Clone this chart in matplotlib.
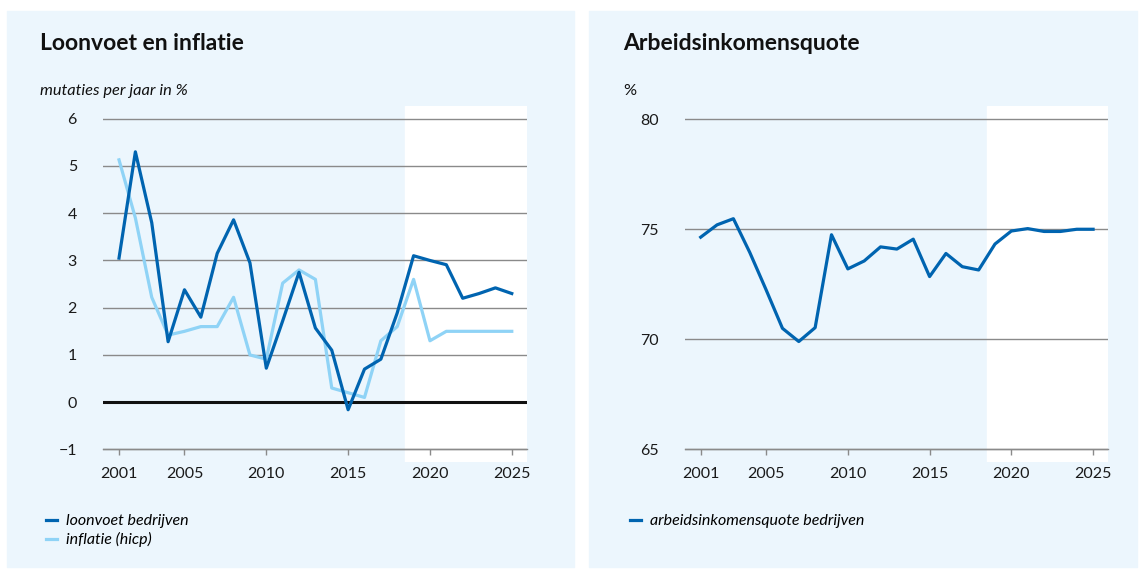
import numpy as np
import matplotlib.pyplot as plt
from matplotlib.patches import Rectangle

plt.rcParams['font.family'] = ['Lato', 'DejaVu Sans']

years = np.arange(2001, 2026)
loonvoet = [3.05, 5.3, 3.8, 1.28, 2.38, 1.8, 3.15, 3.86, 2.95, 0.72, 1.72, 2.75, 1.57,
            1.1, -0.16, 0.7, 0.91, 1.89, 3.1, 3.0, 2.91, 2.2, 2.3, 2.42, 2.3]
inflatie = [5.13, 3.9, 2.22, 1.42, 1.5, 1.6, 1.6, 2.22, 1.0, 0.91, 2.52, 2.8, 2.6,
            0.3, 0.2, 0.1, 1.3, 1.6, 2.6, 1.3, 1.5, 1.5, 1.5, 1.5, 1.5]
aiq = [74.64, 75.2, 75.48, 73.95, 72.25, 70.5, 69.9, 70.53, 74.75, 73.2, 73.56, 74.2,
       74.1, 74.55, 72.85, 73.9, 73.3, 73.15, 74.33, 74.92, 75.03, 74.9, 74.9, 75.0, 75.0]
xticks = [2001, 2005, 2010, 2015, 2020, 2025]
forecast_start = 2018.5

W, H = 1141, 569
dark = '#0064B0'
light = '#8FD3F6'
panel = '#ECF6FD'
grid = '#8A8A8A'

fig = plt.figure(figsize=(W / 100, H / 100), dpi=100)
fig.patch.set_facecolor('white')

def fx(px):
    return px / W

def fy(py):
    return 1 - py / H

# panel backgrounds
fig.add_artist(Rectangle((fx(7), fy(567)), fx(567), (567 - 11) / H,
                         transform=fig.transFigure, color=panel, zorder=0))
fig.add_artist(Rectangle((fx(589), fy(567)), fx(548), (567 - 11) / H,
                         transform=fig.transFigure, color=panel, zorder=0))

def style_axes(ax, ylo, yhi, ygrid):
    ax.set_facecolor('none')
    ax.set_xlim(2000.04, 2025.93)
    ax.set_ylim(ylo, yhi)
    ax.axvspan(forecast_start, 2026, color='white', zorder=0)
    for g in ygrid:
        ax.axhline(g, color=grid, lw=1.0, zorder=1)
    for s in ax.spines.values():
        s.set_visible(False)
    ax.set_xticks(xticks)
    ax.set_yticks(ygrid)
    ax.tick_params(axis='x', direction='out', length=4, width=1, color=grid,
                   pad=9, labelsize=11.5, labelcolor='#1a1a1a')
    ax.tick_params(axis='y', length=0, pad=19, labelsize=11.5, labelcolor='#1a1a1a')
    # x ticks sit on the lowest gridline
    ax.spines['bottom'].set_position(('data', ygrid[0]))
    ax.spines['bottom'].set_visible(True)
    ax.spines['bottom'].set_color(grid)
    ax.spines['bottom'].set_linewidth(1.0)

# left chart
ax1 = fig.add_axes([fx(103.3), fy(461.7), fx(527 - 103.3), (461.7 - 106) / H])
style_axes(ax1, -1.26, 6.27, [-1, 0, 1, 2, 3, 4, 5, 6])
ax1.set_yticklabels(['\u22121', '0', '1', '2', '3', '4', '5', '6'])
ax1.axhline(0, color='#111111', lw=2.2, zorder=2)
ax1.plot(years, inflatie, color=light, lw=2.3, label='inflatie (hicp)', zorder=3)
ax1.plot(years, loonvoet, color=dark, lw=2.3, label='loonvoet bedrijven', zorder=4)
h, l = ax1.get_legend_handles_labels()
ax1.legend(h[::-1], l[::-1], loc='upper left', bbox_to_anchor=(fx(38), fy(506)),
           bbox_transform=fig.transFigure, frameon=False, handlelength=0.7,
           handletextpad=0.55, labelspacing=0.25, borderpad=0,
           prop={'style': 'italic', 'size': 11.5})

# right chart
ax2 = fig.add_axes([fx(685), fy(461.7), fx(1108.3 - 685), (461.7 - 106) / H])
style_axes(ax2, 64.44, 80.6, [65, 70, 75, 80])
ax2.plot(years, aiq, color=dark, lw=2.3, label='arbeidsinkomensquote bedrijven', zorder=4)
ax2.legend(loc='upper left', bbox_to_anchor=(fx(622), fy(506)),
           bbox_transform=fig.transFigure, frameon=False, handlelength=0.7,
           handletextpad=0.55, borderpad=0,
           prop={'style': 'italic', 'size': 11.5})

# titles
fig.text(fx(40), fy(50), 'Loonvoet en inflatie', fontsize=16.5, fontweight='bold',
         va='baseline', color='#111111')
fig.text(fx(623), fy(50), 'Arbeidsinkomensquote', fontsize=16.5, fontweight='bold',
         va='baseline', color='#111111')
fig.text(fx(40), fy(95), 'mutaties per jaar in %', fontsize=11.8, style='italic',
         va='baseline', color='#111111')
fig.text(fx(623), fy(95), '%', fontsize=11.8, va='baseline', color='#111111')

fig.savefig('out.png', dpi=100)
